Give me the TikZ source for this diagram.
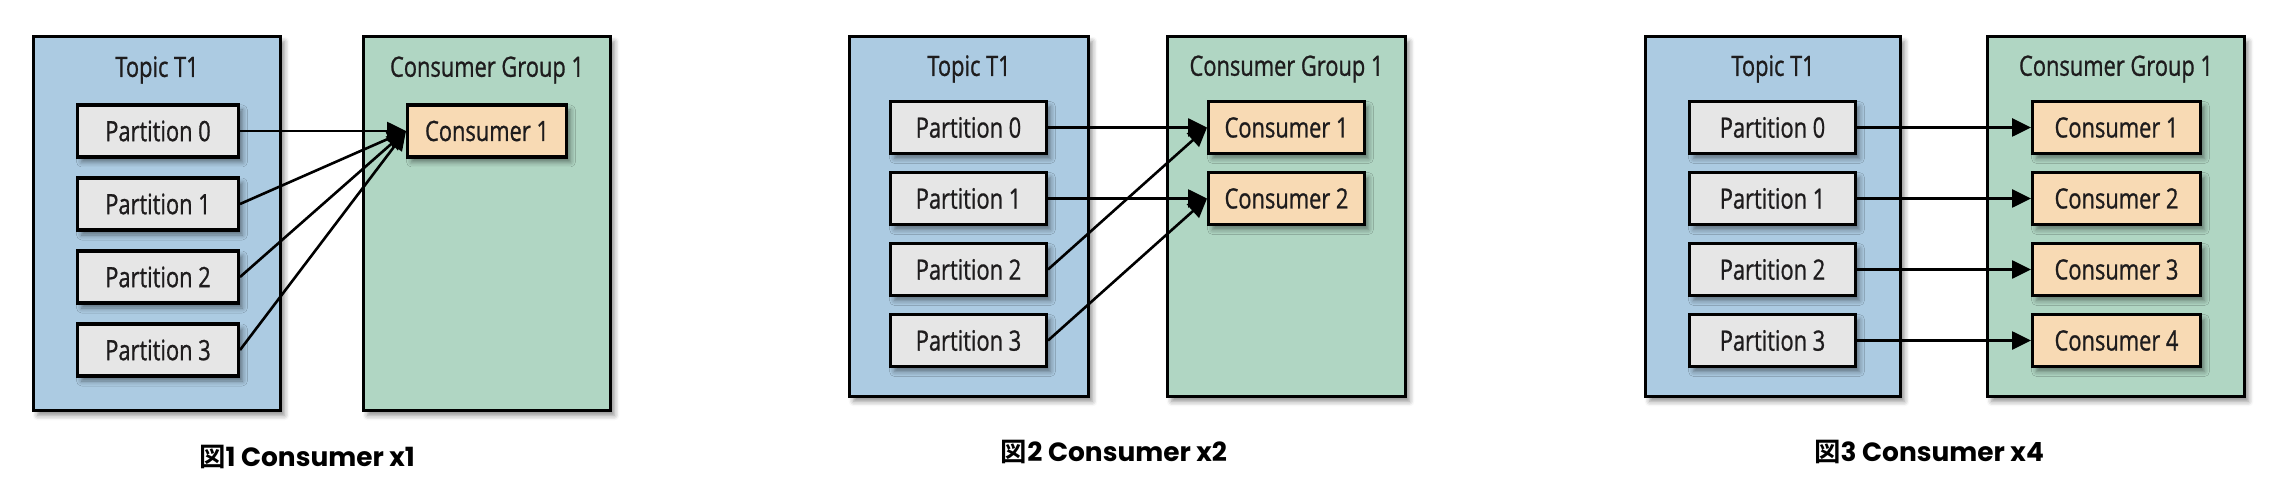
\documentclass[tikz,border=0pt]{standalone}
\usepackage{fontspec}
\newfontfamily\boxfont{Open Sans}[FakeStretch=0.78, FakeBold=0.9]
\newfontfamily\capfont{Poppins}
\newfontfamily\jpfont{Noto Sans CJK JP}[BoldFont={Noto Sans CJK JP Bold}]
\usepackage{tikz}
\usetikzlibrary{positioning, arrows.meta, shadows.blur}

\definecolor{topicblue}{RGB}{172,203,226}
\definecolor{groupgreen}{RGB}{176,214,195}
\definecolor{partgray}{RGB}{230,230,230}
\definecolor{consorange}{RGB}{248,218,180}
\definecolor{inkgray}{RGB}{30,28,29}

\begin{document}
\begin{tikzpicture}[
			x=0.5bp, y=-0.5bp,
			node distance=8.9bp, % gap between stacked boxes
			% Style for the big panels (topic / consumer group)
			container/.style={
				rectangle,
				draw=black,
				line width=1.6bp,
				inner sep=0pt,
				minimum width=123.4bp,
				minimum height=186.9bp,
				blur shadow={shadow xshift=2bp, shadow yshift=-2.5bp, shadow blur radius=2.5bp, shadow opacity=45}
			},
			% Style for the partitions
			partition/.style={
				rectangle,
				draw=black,
				line width=1.6bp,
				fill=partgray,
				inner sep=0pt,
				minimum width=80.4bp,
				minimum height=26bp,
				text=inkgray,
				font=\boxfont\fontsize{14bp}{16bp}\selectfont,
				blur shadow={shadow xshift=2bp, shadow yshift=-2.5bp, shadow blur radius=2.5bp, shadow opacity=45}
			},
			% Style for the consumers
			consumer/.style={
				partition,
				fill=consorange
			},
			% Heading inside a panel
			title/.style={
				inner sep=0pt,
				text=inkgray,
				font=\boxfont\fontsize{14bp}{16bp}\selectfont
			},
			% Figure caption under each diagram
			caption/.style={
				inner sep=0pt,
				font=\capfont\bfseries\fontsize{13.2bp}{15bp}\selectfont
			},
			% Partition -> consumer assignment
			assign/.style={
				-{Triangle[length=9.5bp, width=9bp]},
				line width=1.3bp
			}
			]
			
			\useasboundingbox (0,0) rectangle (2292,496);
			
			% --- FIGURE 1: ONE CONSUMER ---
			\node[container, fill=topicblue] (aTopic) at (157,223.5) {};
			\node[container, fill=groupgreen] (aGroup) at (487,223.5) {};
			\node[title] (aTopicT) at ([yshift=-17.5bp]aTopic.north) {Topic T1};
			\node[title] (aGroupT) at ([yshift=-17.5bp]aGroup.north) {Consumer Group 1};
			
			\node[partition] (aP0) at (158,131) {Partition 0};
			\node[partition, below=of aP0] (aP1) {Partition 1};
			\node[partition, below=of aP1] (aP2) {Partition 2};
			\node[partition, below=of aP2] (aP3) {Partition 3};
			
			\node[consumer, minimum width=79.4bp] (aC1) at (487,131) {Consumer 1};
			
			\draw[assign] (aP0.east) -- (aC1.west);
			\draw[assign] (aP1.east) -- (aC1.west);
			\draw[assign] (aP2.east) -- (aC1.west);
			\draw[assign] (aP3.east) -- (aC1.west);
			
			\node[caption] (aCap) at (307,457) {{\jpfont\bfseries 図}1 Consumer x1};
			
			% --- FIGURE 2: TWO CONSUMERS ---
			\begin{scope}[node distance=7.9bp, container/.append style={minimum height=179.9bp}, partition/.append style={minimum width=77.9bp}]
				\node[container, fill=topicblue, minimum width=119.4bp] (bTopic) at (969,216.5) {};
				\node[container, fill=groupgreen, minimum width=118.9bp] (bGroup) at (1286.5,216.5) {};
				\node[title] (bTopicT) at ([yshift=-17bp]bTopic.north) {Topic T1};
				\node[title] (bGroupT) at ([yshift=-17bp]bGroup.north) {Consumer Group 1};
				
				\node[partition] (bP0) at (968.5,127.5) {Partition 0};
				\node[partition, below=of bP0] (bP1) {Partition 1};
				\node[partition, below=of bP1] (bP2) {Partition 2};
				\node[partition, below=of bP2] (bP3) {Partition 3};
				
				\node[consumer] (bC1) at (1286.5,127.5) {Consumer 1};
				\node[consumer, below=of bC1] (bC2) {Consumer 2};
				
				\draw[assign] (bP0.east) -- (bC1.west);
				\draw[assign] (bP1.east) -- (bC2.west);
				\draw[assign] (bP2.east) -- (bC1.west);
				\draw[assign] (bP3.east) -- (bC2.west);
				
				\node[caption] (bCap) at (1114,452) {{\jpfont\bfseries 図}2 Consumer x2};
			\end{scope}
			
			% --- FIGURE 3: FOUR CONSUMERS ---
			\begin{scope}[node distance=7.9bp, container/.append style={minimum height=179.9bp}, partition/.append style={minimum width=82.9bp}]
				\node[container, fill=topicblue, minimum width=127.4bp] (cTopic) at (1773,216.5) {};
				\node[container, fill=groupgreen, minimum width=128.4bp] (cGroup) at (2116,216.5) {};
				\node[title] (cTopicT) at ([yshift=-17bp]cTopic.north) {Topic T1};
				\node[title] (cGroupT) at ([yshift=-17bp]cGroup.north) {Consumer Group 1};
				
				\node[partition] (cP0) at (1772.5,127.5) {Partition 0};
				\node[partition, below=of cP0] (cP1) {Partition 1};
				\node[partition, below=of cP1] (cP2) {Partition 2};
				\node[partition, below=of cP2] (cP3) {Partition 3};
				
				\node[consumer, minimum width=83.9bp] (cC1) at (2116.5,127.5) {Consumer 1};
				\node[consumer, minimum width=83.9bp, below=of cC1] (cC2) {Consumer 2};
				\node[consumer, minimum width=83.9bp, below=of cC2] (cC3) {Consumer 3};
				\node[consumer, minimum width=83.9bp, below=of cC3] (cC4) {Consumer 4};
				
				\draw[assign] (cP0) -- (cC1);
				\draw[assign] (cP1) -- (cC2);
				\draw[assign] (cP2) -- (cC3);
				\draw[assign] (cP3) -- (cC4);
				
				\node[caption] (cCap) at (1929,452) {{\jpfont\bfseries 図}3 Consumer x4};
			\end{scope}
			
		\end{tikzpicture}
\end{document}
